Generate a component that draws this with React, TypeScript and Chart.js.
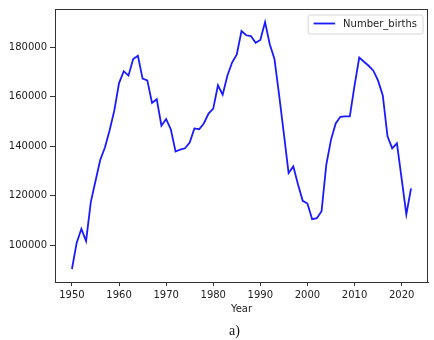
import React, { useEffect, useRef } from "react";
import { Chart, registerables } from "chart.js";

Chart.register(...registerables);

const years: number[] = [
  1950, 1951, 1952, 1953, 1954, 1955, 1956, 1957, 1958, 1959,
  1960, 1961, 1962, 1963, 1964, 1965, 1966, 1967, 1968, 1969,
  1970, 1971, 1972, 1973, 1974, 1975, 1976, 1977, 1978, 1979,
  1980, 1981, 1982, 1983, 1984, 1985, 1986, 1987, 1988, 1989,
  1990, 1991, 1992, 1993, 1994, 1995, 1996, 1997, 1998, 1999,
  2000, 2001, 2002, 2003, 2004, 2005, 2006, 2007, 2008, 2009,
  2010, 2011, 2012, 2013, 2014, 2015, 2016, 2017, 2018, 2019,
  2020, 2021, 2022,
];

const numberBirths: number[] = [
  90500, 101000, 106700, 101800, 117500, 126000, 134500, 139500, 146500, 154500,
  165500, 170300, 168500, 175200, 176500, 167300, 166600, 157500, 159000, 148300,
  151000, 146800, 137900, 138700, 139200, 141500, 147200, 146900, 149200, 153200,
  155200, 164600, 160800, 168500, 173800, 177100, 186500, 184800, 184500, 181800,
  182900, 190100, 181200, 175200, 160500, 145000, 129200, 131900, 124600, 118000,
  116900, 110600, 111000, 113800, 132500, 142600, 149200, 151900, 152100, 152100,
  164500, 175800, 174100, 172500, 170500, 166500, 160500, 144000, 139200, 141200,
  127000, 112500, 123000,
];

const xTicks: number[] = [1950, 1960, 1970, 1980, 1990, 2000, 2010, 2020];
const yTicks: number[] = [100000, 120000, 140000, 160000, 180000];

const seriesLabel = "Number_births";
const xTitle = "Year";
const caption = "a)";

const FONT = "'DejaVu Sans', sans-serif";
const LINE_COLOR = "#1a1aff";

const framePlugin = {
  id: "frameAndLegend",
  afterDraw(chart: any) {
    const { ctx, chartArea } = chart;
    const { left, top, right, bottom } = chartArea;
    ctx.save();
    // axes frame
    ctx.strokeStyle = "#333";
    ctx.lineWidth = 1;
    ctx.strokeRect(Math.round(left) + 0.5, Math.round(top) + 0.5, Math.round(right - left) - 1, Math.round(bottom - top));
    // legend
    ctx.font = `10px ${FONT}`;
    const tw = ctx.measureText(seriesLabel).width;
    const boxW = tw + 41;
    const boxH = 19;
    const bx = right - 5 - boxW;
    const by = top + 6;
    const r = 2;
    ctx.beginPath();
    ctx.moveTo(bx + r, by);
    ctx.lineTo(bx + boxW - r, by);
    ctx.quadraticCurveTo(bx + boxW, by, bx + boxW, by + r);
    ctx.lineTo(bx + boxW, by + boxH - r);
    ctx.quadraticCurveTo(bx + boxW, by + boxH, bx + boxW - r, by + boxH);
    ctx.lineTo(bx + r, by + boxH);
    ctx.quadraticCurveTo(bx, by + boxH, bx, by + boxH - r);
    ctx.lineTo(bx, by + r);
    ctx.quadraticCurveTo(bx, by, bx + r, by);
    ctx.closePath();
    ctx.fillStyle = "rgba(255,255,255,0.8)";
    ctx.fill();
    ctx.strokeStyle = "#d6d6d6";
    ctx.lineWidth = 1;
    ctx.stroke();
    ctx.strokeStyle = LINE_COLOR;
    ctx.lineWidth = 1.8;
    ctx.beginPath();
    ctx.moveTo(bx + 5.5, by + 8.5);
    ctx.lineTo(bx + 27, by + 8.5);
    ctx.stroke();
    ctx.fillStyle = "#222";
    ctx.textBaseline = "middle";
    ctx.textAlign = "left";
    ctx.fillText(seriesLabel, bx + 35, by + 9.5);
    ctx.restore();
  },
};

export default function App() {
  const canvasRef = useRef<HTMLCanvasElement | null>(null);

  useEffect(() => {
    if (!canvasRef.current) return;
    const chart = new Chart(canvasRef.current, {
      type: "line",
      data: {
        datasets: [
          {
            label: seriesLabel,
            data: years.map((y, i) => ({ x: y, y: numberBirths[i] })),
            borderColor: LINE_COLOR,
            borderWidth: 1.8,
            pointRadius: 0,
            tension: 0,
            fill: false,
          },
        ],
      },
      options: {
        animation: false,
        responsive: false,
        devicePixelRatio: 1,
        layout: { padding: { left: 0, right: 6, top: 6, bottom: 0 } },
        plugins: {
          legend: { display: false },
          tooltip: { enabled: false },
        },
        scales: {
          x: {
            type: "linear",
            min: 1946.4,
            max: 2025.6,
            afterBuildTicks: (scale: any) => {
              scale.ticks = xTicks.map((v) => ({ value: v }));
            },
            afterFit: (scale: any) => {
              scale.height = 58;
            },
            grid: {
              display: true,
              drawOnChartArea: false,
              drawTicks: true,
              tickLength: 4,
              color: "#333",
            },
            border: { display: true, color: "#333", width: 1 },
            ticks: {
              padding: 3,
              color: "#222",
              font: { family: FONT, size: 10 },
              maxRotation: 0,
              autoSkip: false,
              callback: (v: any) => String(v),
            },
            title: {
              display: true,
              text: xTitle,
              color: "#222",
              font: { family: FONT, size: 10 },
              padding: { top: 0, bottom: 25 },
            },
          },
          y: {
            type: "linear",
            min: 85250,
            max: 195400,
            afterBuildTicks: (scale: any) => {
              scale.ticks = yTicks.map((v) => ({ value: v }));
            },
            afterFit: (scale: any) => {
              scale.width = 55;
            },
            grid: {
              display: true,
              drawOnChartArea: false,
              drawTicks: true,
              tickLength: 5,
              color: "#333",
            },
            border: { display: true, color: "#333", width: 1 },
            ticks: {
              padding: 3,
              color: "#222",
              font: { family: FONT, size: 10 },
              autoSkip: false,
              callback: (v: any) => String(v),
            },
          },
        },
      },
      plugins: [framePlugin],
    });
    return () => chart.destroy();
  }, []);

  return (
    <div style={{ position: "absolute", left: 0, top: 0, width: 434, height: 340, background: "#fff" }}>
      <canvas ref={canvasRef} width={434} height={340} style={{ width: 434, height: 340, display: "block" }} />
      <div
        style={{
          position: "absolute",
          left: 229,
          top: 323,
          fontFamily: "'Liberation Serif', 'Times New Roman', serif",
          fontSize: 14,
          lineHeight: "16px",
          color: "#111",
        }}
      >
        {caption}
      </div>
    </div>
  );
}
